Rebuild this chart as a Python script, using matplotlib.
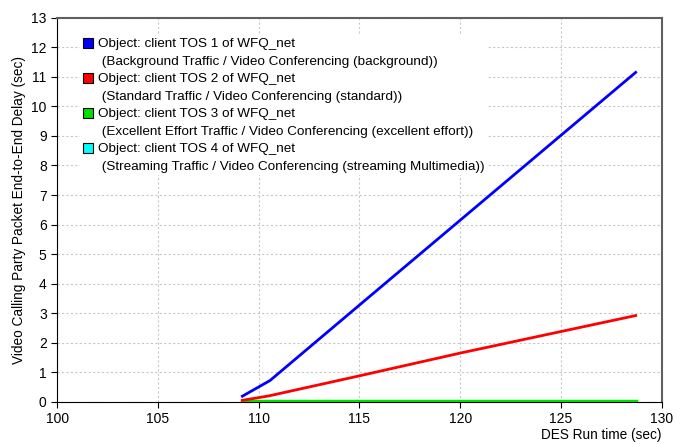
import matplotlib.pyplot as plt
from matplotlib.patches import Patch

plt.rcParams['font.family'] = ['Liberation Sans', 'DejaVu Sans']

# blue - TOS 1
t_bg = [109.19, 110.56, 115.25, 120.0, 128.7]
d_bg = [0.19, 0.72, 3.42, 6.15, 11.15]
# red - TOS 2
t_std = [109.19, 110.5, 115.0, 120.0, 128.7]
d_std = [0.05, 0.2, 0.88, 1.65, 2.92]
# green - TOS 3
t_ee = [109.19, 128.7]
d_ee = [0.03, 0.03]
# cyan - TOS 4
t_sm = [109.19, 128.7]
d_sm = [0.03, 0.03]

objects = ['Object: client TOS 1 of WFQ_net',
           'Object: client TOS 2 of WFQ_net',
           'Object: client TOS 3 of WFQ_net',
           'Object: client TOS 4 of WFQ_net']
details = ['(Background Traffic / Video Conferencing (background))',
           '(Standard Traffic / Video Conferencing (standard))',
           '(Excellent Effort Traffic / Video Conferencing (excellent effort))',
           '(Streaming Traffic / Video Conferencing (streaming Multimedia))']
colors = ['#0000ff', '#ff0000', '#00e000', '#00ffff']

fig = plt.figure(figsize=(6.88, 4.44), dpi=100)
ax = fig.add_axes([0.083, 0.095, 0.879, 0.865])

ax.plot(t_sm, d_sm, color=colors[3], lw=2, zorder=2)
ax.plot(t_ee, d_ee, color=colors[2], lw=2.5, zorder=3)
ax.plot(t_std, d_std, color=colors[1], lw=2, zorder=3)
ax.plot(t_bg, d_bg, color=colors[0], lw=2, zorder=3)

ax.set_xlim(100, 130)
ax.set_ylim(0, 13)
ax.set_xticks(range(100, 131, 5))
ax.set_yticks(range(0, 14))
ax.grid(True, color='#c8c8c8', linestyle=(0, (2, 2)), linewidth=0.8)
ax.tick_params(direction='out', length=4, labelsize=10, colors='black')

for s in ['top', 'right']:
    ax.spines[s].set_color('#606060')
    ax.spines[s].set_linewidth(1.5)

ax.set_ylabel('Video Calling Party Packet End-to-End Delay (sec)', fontsize=9.8)
ax.set_xlabel('DES Run time (sec)', fontsize=9.8, loc='right', labelpad=1)

handles, labels = [], []
for c, o, d in zip(colors, objects, details):
    handles.append(Patch(facecolor=c, edgecolor='black', linewidth=0.8))
    labels.append(o)
    handles.append(Patch(facecolor='none', edgecolor='none'))
    labels.append(' ' + d)

leg = ax.legend(handles, labels, loc='upper left', bbox_to_anchor=(0.038, 0.955),
                frameon=True, edgecolor='none', facecolor='white', framealpha=1,
                fontsize=9.7, handlelength=0.75, handleheight=0.75, handletextpad=0.35,
                labelspacing=0.36, borderpad=0.2, borderaxespad=0)

fig.savefig('out.png', dpi=100)
